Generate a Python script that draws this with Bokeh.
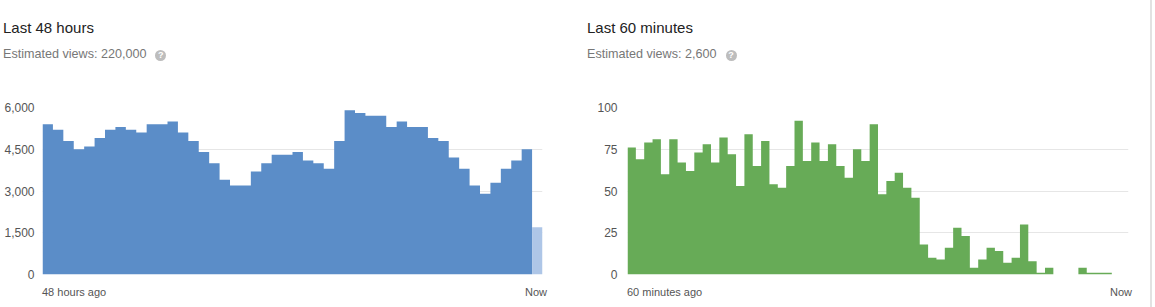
from bokeh.plotting import figure
from bokeh.models import FixedTicker, NumeralTickFormatter, Div, Range1d
from bokeh.layouts import row, column
from bokeh.embed import file_html
from bokeh.resources import INLINE

# ---- data ----
hour_views = [5400, 5200, 4800, 4500, 4600, 4900, 5200, 5300, 5200, 5100,
              5400, 5400, 5500, 5100, 4800, 4400, 4000, 3400, 3200, 3200,
              3700, 4000, 4300, 4300, 4400, 4100, 4000, 3800, 4800, 5900,
              5800, 5700, 5700, 5300, 5500, 5300, 5300, 4900, 4800, 4200,
              3800, 3200, 2900, 3300, 3800, 4100, 4500]
current_hour_views = [1700]
minute_views = [76, 69, 79, 81, 60, 81, 67, 62, 73, 78,
                67, 82, 72, 53, 84, 65, 80, 54, 52, 65,
                92, 68, 79, 68, 78, 65, 58, 75, 68, 90,
                48, 56, 61, 52, 46, 18, 10, 9, 16, 28,
                23, 4, 9, 16, 14, 7, 10, 30, 8, 1,
                4, 0, 0, 0, 4, 1, 1, 1, 0, 0]
hour_ticks = [0, 1500, 3000, 4500, 6000]
minute_ticks = [0, 25, 50, 75, 100]
titles = ["Last 48 hours", "Last 60 minutes"]
subtitles = ["Estimated views: 220,000", "Estimated views: 2,600"]
start_labels = ["48 hours ago", "60 minutes ago"]
end_label = "Now"

FONT = "Liberation Sans"
BLUE = "#5b8dc8"
LIGHT_BLUE = "#aec6e7"
GREEN = "#67ab57"

HEADER_H = 90
FOOTER_H = 25
FIG_H = 307 - HEADER_H - FOOTER_H


def step_outline(values, start=0):
    """Outline of adjacent unit-wide bars as one polygon (no seams)."""
    xs, ys = [start], [0]
    for i, v in enumerate(values):
        xs += [start + i, start + i + 1]
        ys += [v, v]
    xs.append(start + len(values))
    ys.append(0)
    return xs, ys


def base_fig(width, left, right, n, ymax, ticks, standoff):
    p = figure(width=width, height=FIG_H, output_backend="svg", toolbar_location=None,
               x_range=Range1d(0, n), y_range=Range1d(0, ymax),
               min_border_left=left, min_border_right=right,
               min_border_top=17, min_border_bottom=8)
    p.outline_line_color = None
    p.background_fill_color = "white"
    p.border_fill_color = "white"
    p.xaxis.visible = False
    p.xgrid.visible = False
    p.ygrid.grid_line_color = "#e6e6e6"
    p.ygrid.ticker = FixedTicker(ticks=ticks)
    ax = p.yaxis[0]
    ax.ticker = FixedTicker(ticks=ticks)
    ax.formatter = NumeralTickFormatter(format="0,0")
    ax.axis_line_color = None
    ax.major_tick_line_color = None
    ax.minor_tick_line_color = None
    ax.major_tick_in = 0
    ax.major_tick_out = 0
    ax.major_label_standoff = standoff
    ax.major_label_text_font = FONT
    ax.major_label_text_font_size = "12px"
    ax.major_label_text_color = "#555555"
    return p


def header(width, x, title, subtitle, icon_x):
    html = (
        f'<div style="position:relative;width:{width}px;height:{HEADER_H}px;'
        f'font-family:\'Liberation Sans\',Arial,sans-serif;">'
        f'<span style="position:absolute;left:{x}px;top:19.6px;font-size:15px;line-height:15px;'
        f'color:#222222;white-space:nowrap;">{title}</span>'
        f'<span style="position:absolute;left:{x}px;top:47.8px;font-size:12.6px;line-height:12.6px;'
        f'color:#777777;white-space:nowrap;">{subtitle}</span>'
        f'<span style="position:absolute;left:{icon_x - 5.5}px;top:49.5px;width:11px;height:11px;'
        f'border-radius:50%;background:#bdbdbd;color:#ffffff;font-size:9px;font-weight:bold;'
        f'line-height:11px;text-align:center;">?</span>'
        f'</div>'
    )
    return Div(text=html, width=width, height=HEADER_H, margin=0)


def footer(width, start_x, start, now_center):
    html = (
        f'<div style="position:relative;width:{width}px;height:{FOOTER_H}px;'
        f'font-family:\'Liberation Sans\',Arial,sans-serif;'
        f'font-size:11px;line-height:11px;color:#555555;">'
        f'<span style="position:absolute;left:{start_x}px;top:4.9px;white-space:nowrap;">{start}</span>'
        f'<span style="position:absolute;left:{now_center}px;top:4.9px;white-space:nowrap;'
        f'transform:translateX(-50%);">{end_label}</span>'
        f'</div>'
    )
    return Div(text=html, width=width, height=FOOTER_H, margin=0)


# ---- left chart ----
n_h = len(hour_views) + len(current_hour_views)
p1 = base_fig(577, 42, 35, n_h, 6000, hour_ticks, 8)
hx, hy = step_outline(hour_views)
p1.patch(hx, hy, fill_color=BLUE, line_color=None)
cx, cy = step_outline(current_hour_views, start=len(hour_views))
p1.patch(cx, cy, fill_color=LIGHT_BLUE, line_color=None)
col1 = column(header(577, 3, titles[0], subtitles[0], 160.7), p1,
              footer(577, 42, start_labels[0], 536), spacing=0)

# ---- right chart ----
n_m = len(minute_views)
p2 = base_fig(573, 50, 22, n_m, 100, minute_ticks, 10)
mx, my = step_outline(minute_views)
p2.patch(mx, my, fill_color=GREEN, line_color=None)
col2 = column(header(573, 10, titles[1], subtitles[1], 154), p2,
              footer(573, 50, start_labels[1], 544), spacing=0)

strip = Div(text="", width=2, height=307, margin=0, styles={"background-color": "#e2e2e2"})

layout = row(col1, col2, strip, spacing=0)
open("out.html", "w").write(file_html(layout, INLINE))
